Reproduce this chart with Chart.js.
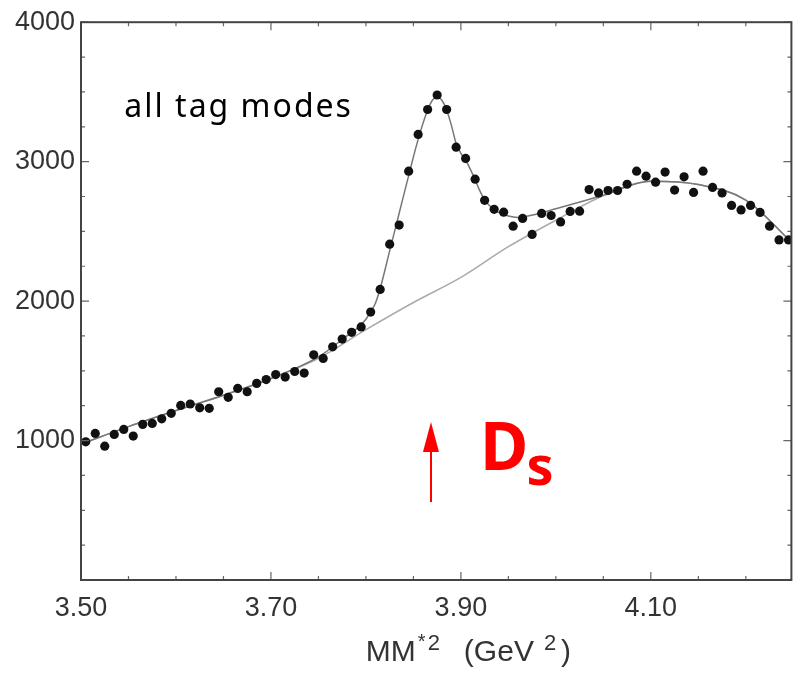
<!DOCTYPE html>
<html>
  <head>
    <script src="https://cdn.jsdelivr.net/npm/chart.js"></script>
    <style>
      html, body { margin: 0; padding: 0; background: #fff; }
    </style>
  </head>
  <body>
    <canvas id="mm-chart" width="796" height="675"></canvas>
    <script>
      // histogram bins (bin centres in GeV^2) and counts
      var binCenters = [
        3.505, 3.515, 3.525, 3.535, 3.545, 3.555, 3.565, 3.575, 3.585, 3.595,
        3.605, 3.615, 3.625, 3.635, 3.645, 3.655, 3.665, 3.675, 3.685, 3.695,
        3.705, 3.715, 3.725, 3.735, 3.745, 3.755, 3.765, 3.775, 3.785, 3.795,
        3.805, 3.815, 3.825, 3.835, 3.845, 3.855, 3.865, 3.875, 3.885, 3.895,
        3.905, 3.915, 3.925, 3.935, 3.945, 3.955, 3.965, 3.975, 3.985, 3.995,
        4.005, 4.015, 4.025, 4.035, 4.045, 4.055, 4.065, 4.075, 4.085, 4.095,
        4.105, 4.115, 4.125, 4.135, 4.145, 4.155, 4.165, 4.175, 4.185, 4.195,
        4.205, 4.215, 4.225, 4.235, 4.245
      ];
      var counts = [
        991, 1051, 960, 1044, 1080, 1032, 1116, 1123, 1156, 1195,
        1252, 1262, 1235, 1231, 1350, 1310, 1374, 1350, 1410, 1437,
        1473, 1455, 1495, 1484, 1615, 1589, 1672, 1728, 1776, 1815,
        1921, 2084, 2408, 2545, 2932, 3195, 3374, 3478, 3374, 3104,
        3023, 2874, 2723, 2658, 2638, 2537, 2593, 2478, 2629, 2614,
        2568, 2643, 2645, 2800, 2776, 2793, 2793, 2838, 2932, 2896,
        2853, 2925, 2796, 2891, 2779, 2932, 2815, 2776, 2686, 2654,
        2686, 2636, 2537, 2439, 2439
      ];

      // full fit (signal + background)
      var fitX = [3.50, 3.55, 3.60, 3.65, 3.70, 3.75, 3.78, 3.79, 3.80, 3.81,
                  3.815, 3.825, 3.835, 3.845, 3.855, 3.865, 3.87, 3.875, 3.88, 3.885,
                  3.89, 3.895, 3.90, 3.905, 3.91, 3.915, 3.92, 3.925, 3.93, 3.935,
                  3.94, 3.95, 3.96, 3.98, 4.00, 4.03, 4.05, 4.10, 4.15, 4.20, 4.25];
      var fitY = [975, 1100, 1215, 1325, 1445, 1600, 1750, 1800, 1870, 1985,
                  2090, 2360, 2630, 2900, 3160, 3370, 3440, 3468, 3440, 3370,
                  3260, 3130, 3060, 3010, 2945, 2870, 2790, 2725, 2685, 2655,
                  2635, 2610, 2600, 2625, 2662, 2720, 2760, 2860, 2836, 2724, 2410];

      // background only
      var bgX = [3.50, 3.55, 3.60, 3.65, 3.70, 3.75, 3.80, 3.85, 3.90, 3.95,
                 4.00, 4.05, 4.10, 4.15, 4.20, 4.25];
      var bgY = [975, 1100, 1215, 1325, 1445, 1590, 1795, 1990, 2170, 2390,
                 2580, 2755, 2860, 2836, 2724, 2410];

      var xTickLabels = [3.50, 3.70, 3.90, 4.10];
      var yTickLabels = [1000, 2000, 3000, 4000];

      function pairs(xs, ys) {
        return xs.map(function(x, i) { return { x: x, y: ys[i] }; });
      }

      // box frame with inward ticks, plus the annotations
      var framePlugin = {
        id: 'framePlugin',
        afterDatasetsDraw: function(chart) {
          var ctx = chart.ctx, a = chart.chartArea;
          var xs = chart.scales.x, ys = chart.scales.y;
          ctx.save();
          ctx.strokeStyle = '#666';
          ctx.lineWidth = 1.2;
          ctx.beginPath();
          for (var i = 0; i <= 15; i++) {
            var xv = 3.5 + 0.05 * i;
            if (xv > xs.max) break;
            var px = xs.getPixelForValue(xv);
            var len = (i % 4 === 0) ? 8 : 4;
            ctx.moveTo(px, a.bottom); ctx.lineTo(px, a.bottom - len);
            ctx.moveTo(px, a.top); ctx.lineTo(px, a.top + len);
          }
          for (var j = 0; j <= 16; j++) {
            var py = ys.getPixelForValue(250 * j);
            var l2 = (j % 4 === 0) ? 8 : 4;
            ctx.moveTo(a.left, py); ctx.lineTo(a.left + l2, py);
            ctx.moveTo(a.right, py); ctx.lineTo(a.right - l2, py);
          }
          ctx.stroke();

          ctx.strokeStyle = '#444';
          ctx.lineWidth = 2;
          ctx.strokeRect(a.left, a.top, a.right - a.left, a.bottom - a.top);

          // label
          ctx.fillStyle = '#000';
          ctx.font = '32px "Comic Sans MS", "Noto Sans", sans-serif';
          ctx.letterSpacing = '2px';
          ctx.textBaseline = 'alphabetic';
          ctx.textAlign = 'left';
          ctx.fillText('all tag modes', xs.getPixelForValue(3.5456), ys.getPixelForValue(3319));
          ctx.letterSpacing = '0px';

          // D_s marker arrow
          var ax = xs.getPixelForValue(3.8685);
          var yTail = ys.getPixelForValue(559);
          var yBase = ys.getPixelForValue(918);
          var yTip = ys.getPixelForValue(1133);
          ctx.strokeStyle = '#f00';
          ctx.fillStyle = '#f00';
          ctx.lineWidth = 2;
          ctx.beginPath();
          ctx.moveTo(ax, yTail); ctx.lineTo(ax, yBase);
          ctx.stroke();
          ctx.beginPath();
          ctx.moveTo(ax, yTip); ctx.lineTo(ax - 8, yBase); ctx.lineTo(ax + 8, yBase);
          ctx.closePath();
          ctx.fill();

          ctx.font = 'bold 66px "Comic Sans MS", "Noto Sans", sans-serif';
          ctx.fillText('D', xs.getPixelForValue(3.920), ys.getPixelForValue(788));
          ctx.font = 'bold 54px "Comic Sans MS", "Noto Sans", sans-serif';
          ctx.fillText('s', xs.getPixelForValue(3.969), ys.getPixelForValue(681));

          // axis title MM*^2 (GeV^2)
          var parts = [
            { t: 'MM', size: 30, dy: 0, gap: 0 },
            { t: '*', size: 20, dy: -13, gap: 2 },
            { t: '2', size: 22, dy: -11, gap: 2 },
            { t: '(GeV', size: 30, dy: 0, gap: 24 },
            { t: '2', size: 22, dy: -11, gap: 10 },
            { t: ')', size: 30, dy: 0, gap: 5 }
          ];
          var total = 0;
          parts.forEach(function(p) {
            ctx.font = p.size + 'px "Liberation Sans", Arial, sans-serif';
            p.w = ctx.measureText(p.t).width;
            total += p.gap + p.w;
          });
          var cx = xs.getPixelForValue(3.908);
          var tx = cx - total / 2;
          var base = a.bottom + 81;
          ctx.fillStyle = '#333';
          parts.forEach(function(p) {
            tx += p.gap;
            ctx.font = p.size + 'px "Liberation Sans", Arial, sans-serif';
            ctx.fillText(p.t, tx, base + p.dy);
            tx += p.w;
          });
          ctx.restore();
        }
      };

      var ctx = document.getElementById('mm-chart').getContext('2d');
      var mmChart = new Chart(ctx, {
        type: 'scatter',
        data: {
          datasets: [{
            label: 'data',
            data: pairs(binCenters, counts),
            showLine: false,
            pointRadius: 4.6,
            pointBackgroundColor: '#111',
            pointBorderWidth: 0,
            clip: 0
          }, {
            label: 'fit',
            data: pairs(fitX, fitY),
            showLine: true,
            pointRadius: 0,
            borderColor: '#777',
            borderWidth: 1.5,
            cubicInterpolationMode: 'monotone',
            clip: 0
          }, {
            label: 'background',
            data: pairs(bgX, bgY),
            showLine: true,
            pointRadius: 0,
            borderColor: '#aaa',
            borderWidth: 1.5,
            cubicInterpolationMode: 'monotone',
            clip: 0
          }]
        },
        options: {
          responsive: false,
          devicePixelRatio: 1,
          animation: false,
          layout: { padding: { top: 22, right: 1, left: 0, bottom: 0 } },
          plugins: {
            legend: { display: false },
            tooltip: { enabled: false }
          },
          scales: {
            x: {
              type: 'linear',
              min: 3.5,
              max: 4.248,
              grid: { display: false, drawTicks: false, tickLength: 0 },
              border: { display: false },
              ticks: {
                color: '#333',
                padding: 12,
                maxRotation: 0,
                autoSkip: false,
                font: { family: '"Liberation Sans", Arial, sans-serif', size: 27 },
                callback: function(v) { return Number(v).toFixed(2); }
              },
              afterBuildTicks: function(scale) {
                scale.ticks = xTickLabels.map(function(v) { return { value: v }; });
              },
              afterFit: function(scale) { scale.height = 95; }
            },
            y: {
              min: 0,
              max: 4000,
              grid: { display: false, drawTicks: false, tickLength: 0 },
              border: { display: false },
              ticks: {
                color: '#333',
                padding: 6,
                font: { family: '"Liberation Sans", Arial, sans-serif', size: 27 },
                callback: function(v) { return String(v); }
              },
              afterBuildTicks: function(scale) {
                scale.ticks = yTickLabels.map(function(v) { return { value: v }; });
              },
              afterFit: function(scale) { scale.width = 81; }
            }
          }
        },
        plugins: [framePlugin]
      });
    </script>
  </body>
</html>
